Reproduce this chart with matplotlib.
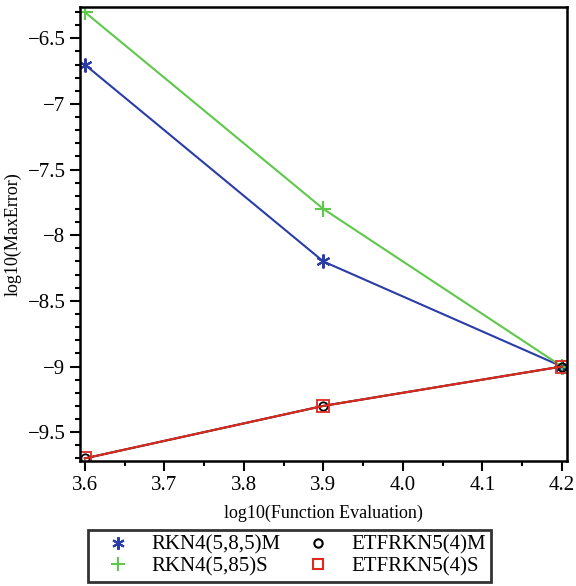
import numpy as np
import matplotlib.pyplot as plt
from matplotlib.ticker import FuncFormatter, MultipleLocator
from matplotlib.lines import Line2D

plt.rcParams['font.family'] = ['Liberation Serif', 'DejaVu Serif']

# log10 of function evaluations
x = [3.6, 3.9, 4.2]

# log10 of max error for each method
rkn_m = [-6.7, -8.2, -9.0]
rkn_s = [-6.3, -7.8, -9.0]
etf_m = [-9.7, -9.3, -9.0]
etf_s = [-9.7, -9.3, -9.0]

labels = ['RKN4(5,8,5)M', 'RKN4(5,85)S', 'ETFRKN5(4)M', 'ETFRKN5(4)S']
blue = '#2a3ca8'
green = '#5ec84a'
red = '#dd2a20'
star = (6, 2, 0)  # six-armed asterisk

fig = plt.figure(figsize=(5.76, 5.86), dpi=100)
ax = fig.add_axes([0.139, 0.2133, 0.845, 0.775])

ax.plot(x, rkn_m, color=blue, lw=1.5, marker=star, ms=10, mew=1.5)
ax.plot(x, rkn_s, color=green, lw=1.5, marker='+', ms=11, mew=1.5)
ax.plot(x, etf_m, color='black', lw=1.5, marker='o', ms=6, mfc='none', mew=1.3)
ax.plot(x, etf_s, color=red, lw=1.5, marker='s', ms=8, mfc='none', mew=1.3)

ax.set_xlim(3.594, 4.206)
ax.set_ylim(-9.72, -6.26)

ax.xaxis.set_major_locator(MultipleLocator(0.1))
ax.xaxis.set_minor_locator(MultipleLocator(0.05))
ax.yaxis.set_major_locator(MultipleLocator(0.5))
ax.yaxis.set_minor_locator(MultipleLocator(0.1))
ax.xaxis.set_major_formatter(FuncFormatter(lambda v, p: '%.1f' % v))
ax.yaxis.set_major_formatter(FuncFormatter(lambda v, p: ('%g' % v).replace('-', '\u2212')))

ax.tick_params(axis='both', which='major', direction='out', length=7, width=1.5,
               labelsize=15, top=False, right=False)
ax.tick_params(axis='both', which='minor', direction='out', length=3.5, width=1.5,
               top=False, right=False)
for s in ax.spines.values():
    s.set_linewidth(1.8)

ax.set_xlabel('log10(Function Evaluation)', fontsize=13, labelpad=7)
ax.set_ylabel('log10(MaxError)', fontsize=13, labelpad=4)

handles = [
    Line2D([], [], ls='none', marker=star, color=blue, ms=9, mew=1.5),
    Line2D([], [], ls='none', marker='+', color=green, ms=10, mew=1.5),
    Line2D([], [], ls='none', marker='o', color='black', mfc='none', ms=6, mew=1.5),
    Line2D([], [], ls='none', marker='s', color=red, mfc='none', ms=7, mew=1.5),
]
leg = fig.legend(handles, labels, ncol=2, loc='upper left',
                 bbox_to_anchor=(88 / 576, 1 - 530 / 586),
                 fontsize=15, frameon=True, fancybox=False, borderpad=0.25,
                 handletextpad=0.4, columnspacing=0.6, labelspacing=0.1,
                 handlelength=2.4, borderaxespad=0)
leg.get_frame().set_edgecolor('black')
leg.get_frame().set_linewidth(2)

fig.savefig('out.png', dpi=100)
